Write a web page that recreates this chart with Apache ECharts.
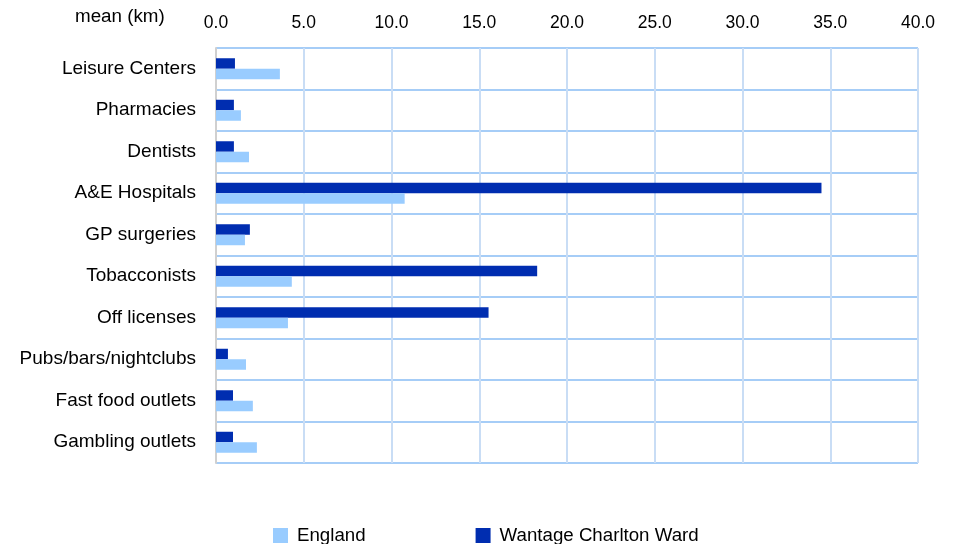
<!DOCTYPE html>
<html><head><meta charset="utf-8">
<script src="https://cdn.jsdelivr.net/npm/echarts@6/dist/echarts.min.js"></script>
<style>html,body{margin:0;padding:0;background:#fff}#c{width:955px;height:544px}</style>
</head><body><div id="c"></div>
<script>
const categories = ["Leisure Centers","Pharmacies","Dentists","A&E Hospitals","GP surgeries","Tobacconists","Off licenses","Pubs/bars/nightclubs","Fast food outlets","Gambling outlets"];
const englandValues = [3.64,1.42,1.88,10.75,1.65,4.32,4.1,1.71,2.1,2.33];
const wantageValues = [1.08,1.02,1.02,34.5,1.93,18.3,15.53,0.68,0.97,0.97];
const seriesNames = ["England","Wantage Charlton Ward"];
const axisTitle = "mean (km)";

const chart = echarts.init(document.getElementById('c'), null, {renderer:'canvas'});
const font = 'Liberation Sans, Arial, sans-serif';
chart.setOption({
  animation:false,
  textStyle:{fontFamily:font},
  grid:{left:216,right:37,top:48,bottom:81,containLabel:false},
  title:{text:axisTitle,left:70,top:2,textStyle:{fontFamily:font,fontSize:18.8,fontWeight:'normal',color:'#000'}},
  legend:{data:seriesNames,left:268,top:521,itemWidth:15,itemHeight:15,itemGap:110,
    icon:'rect',textStyle:{fontFamily:font,fontSize:18.7,color:'#000',padding:[0,0,0,4]}},
  xAxis:{type:'value',position:'top',min:0,max:40,interval:5,
    axisLabel:{formatter:v=>v.toFixed(1),fontSize:17.5,color:'#000',fontFamily:font,margin:16},
    axisLine:{show:false},axisTick:{show:false},
    splitLine:{show:true,lineStyle:{color:'#c9ddf5',width:2}}},
  yAxis:{type:'category',data:categories,inverse:true,
    axisLabel:{fontSize:19,color:'#000',fontFamily:font,margin:20},
    axisLine:{show:true,lineStyle:{color:'#d0d0d0',width:2}},axisTick:{show:false},
    splitLine:{show:true,lineStyle:{color:'#a6cdf7',width:2}}},
  series:[
    {name:seriesNames[1],type:'bar',data:wantageValues,barWidth:10.5,barGap:'0%',itemStyle:{color:'#002db0'}},
    {name:seriesNames[0],type:'bar',data:englandValues,barWidth:10.5,barGap:'0%',itemStyle:{color:'#99ccff'}}
  ]
});
</script></body></html>
